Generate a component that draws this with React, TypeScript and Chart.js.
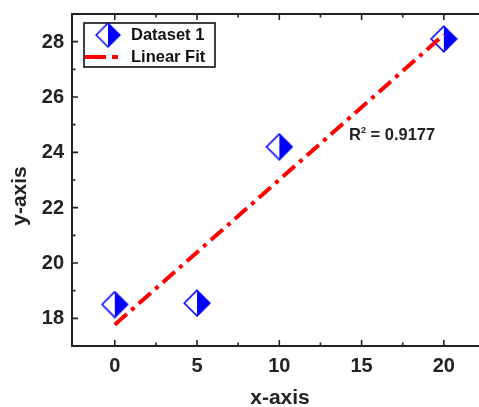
import React, { useEffect, useRef } from "react";
import { Chart, registerables } from "chart.js";

Chart.register(...registerables);

const xValues = [0, 5, 10, 20];
const yValues = [18.5, 18.55, 24.2, 28.1];
const fitX = [0, 20];
const fitY = [17.77, 28.25];
const xTicks = [0, 5, 10, 15, 20];
const xMinorTicks = [2.5, 7.5, 12.5, 17.5];
const yTicks = [18, 20, 22, 24, 26, 28];
const yMinorTicks = [19, 21, 23, 25, 27];
const seriesLabel = "Dataset 1";
const fitLabel = "Linear Fit";
const rSquared = "0.9177";
const xTitle = "x-axis";
const yTitle = "y-axis";

const BLUE = "#0000ff";
const RED = "#ff0000";
const INK = "#222222";
const FONT = "'Liberation Sans', Arial, sans-serif";
const DASH = [16, 6, 4, 6];

function makeMarker(size: number): HTMLCanvasElement {
  const c = document.createElement("canvas");
  c.width = size;
  c.height = size;
  const ctx = c.getContext("2d")!;
  const m = size / 2;
  const h = m - 1.2;
  ctx.beginPath();
  ctx.moveTo(m, m - h);
  ctx.lineTo(m - h, m);
  ctx.lineTo(m, m + h);
  ctx.closePath();
  ctx.fillStyle = "#ffffff";
  ctx.fill();
  ctx.beginPath();
  ctx.moveTo(m, m - h);
  ctx.lineTo(m + h, m);
  ctx.lineTo(m, m + h);
  ctx.closePath();
  ctx.fillStyle = BLUE;
  ctx.fill();
  ctx.beginPath();
  ctx.moveTo(m, m - h);
  ctx.lineTo(m + h, m);
  ctx.lineTo(m, m + h);
  ctx.lineTo(m - h, m);
  ctx.closePath();
  ctx.strokeStyle = BLUE;
  ctx.lineWidth = 1.6;
  ctx.stroke();
  return c;
}

export default function App() {
  const ref = useRef<HTMLCanvasElement>(null);
  useEffect(() => {
    if (!ref.current) return;
    const marker = makeMarker(28);

    const framePlugin = {
      id: "frame",
      beforeDatasetsDraw(chart: any) {
        const { ctx, chartArea: a, scales } = chart;
        const xs = scales.x;
        const ys = scales.y;
        ctx.save();
        ctx.strokeStyle = INK;
        ctx.lineWidth = 2;
        ctx.strokeRect(a.left, a.top, a.right - a.left, a.bottom - a.top);
        ctx.lineWidth = 1.6;
        const tick = (vals: number[], len: number) => {
          vals.forEach((v) => {
            const px = xs.getPixelForValue(v);
            ctx.beginPath();
            ctx.moveTo(px, a.bottom);
            ctx.lineTo(px, a.bottom - len);
            ctx.moveTo(px, a.top);
            ctx.lineTo(px, a.top + len);
            ctx.stroke();
          });
        };
        const tickY = (vals: number[], len: number) => {
          vals.forEach((v) => {
            const py = ys.getPixelForValue(v);
            ctx.beginPath();
            ctx.moveTo(a.left, py);
            ctx.lineTo(a.left + len, py);
            ctx.moveTo(a.right, py);
            ctx.lineTo(a.right - len, py);
            ctx.stroke();
          });
        };
        tick(xTicks, 6);
        tick(xMinorTicks, 3.5);
        tickY(yTicks, 6);
        tickY(yMinorTicks, 3.5);
        ctx.restore();
      },
      afterDraw(chart: any) {
        const { ctx, chartArea: a, scales } = chart;
        const xs = scales.x;
        const ys = scales.y;
        ctx.save();
        ctx.fillStyle = INK;
        ctx.font = `bold 20px ${FONT}`;
        ctx.textAlign = "right";
        ctx.textBaseline = "middle";
        yTicks.forEach((v) => {
          ctx.fillText(String(v), 64, ys.getPixelForValue(v) + 0.5);
        });
        ctx.textAlign = "center";
        xTicks.forEach((v) => {
          ctx.fillText(String(v), xs.getPixelForValue(v), 366);
        });
        // axis titles
        ctx.font = `bold 21px ${FONT}`;
        ctx.textBaseline = "alphabetic";
        ctx.fillText(xTitle, 280, 404);
        ctx.save();
        ctx.translate(26, 196);
        ctx.rotate(-Math.PI / 2);
        ctx.fillText(yTitle, 0, 0);
        ctx.restore();

        // R^2 annotation
        ctx.textAlign = "left";
        ctx.font = `bold 16.5px ${FONT}`;
        let x = 349;
        const by = 140;
        ctx.fillText("R", x, by);
        x += ctx.measureText("R").width;
        ctx.font = `bold 9px ${FONT}`;
        ctx.fillText("2", x, by - 7);
        x += ctx.measureText("2").width;
        ctx.font = `bold 16.5px ${FONT}`;
        ctx.fillText(" = " + rSquared, x, by);

        // legend
        ctx.strokeStyle = "#111";
        ctx.lineWidth = 1.6;
        ctx.fillStyle = "#ffffff";
        ctx.fillRect(84, 23, 131, 44);
        ctx.strokeRect(84, 23, 131, 44);
        ctx.drawImage(marker, 108 - 13, 35 - 13, 26, 26);
        ctx.strokeStyle = RED;
        ctx.lineWidth = 4;
        ctx.setLineDash([21, 6, 6, 6]);
        ctx.beginPath();
        ctx.moveTo(85, 57);
        ctx.lineTo(120, 57);
        ctx.stroke();
        ctx.setLineDash([]);
        ctx.fillStyle = "#111";
        ctx.font = `bold 16.5px ${FONT}`;
        ctx.textBaseline = "middle";
        ctx.fillText(seriesLabel, 131, 35);
        ctx.fillText(fitLabel, 131, 57);
        ctx.restore();
      },
    };

    const chart = new Chart(ref.current, {
      type: "scatter",
      data: {
        datasets: [
          {
            type: "line",
            label: fitLabel,
            data: fitX.map((x, i) => ({ x, y: fitY[i] })),
            borderColor: RED,
            borderWidth: 4,
            borderDash: DASH,
            pointRadius: 0,
            fill: false,
            showLine: true,
            order: 0,
          } as any,
          {
            label: seriesLabel,
            data: xValues.map((x, i) => ({ x, y: yValues[i] })),
            pointStyle: marker as any,
            pointRadius: 13,
            order: 1,
          },
        ],
      },
      options: {
        responsive: false,
        animation: false,
        devicePixelRatio: 1,
        layout: { padding: { left: 72, top: 14, right: 15, bottom: 61 } },
        scales: {
          x: { type: "linear", min: -2.6, max: 22.5, display: false },
          y: { type: "linear", min: 17, max: 29, display: false },
        },
        plugins: {
          legend: { display: false },
          tooltip: { enabled: false },
        },
      },
      plugins: [framePlugin],
    });
    return () => chart.destroy();
  }, []);

  return (
    <div
      style={{
        position: "fixed",
        left: 0,
        top: 0,
        width: 479,
        height: 407,
        overflow: "hidden",
        background: "#ffffff",
      }}
    >
      <canvas ref={ref} width={500} height={407} style={{ display: "block" }} />
    </div>
  );
}
